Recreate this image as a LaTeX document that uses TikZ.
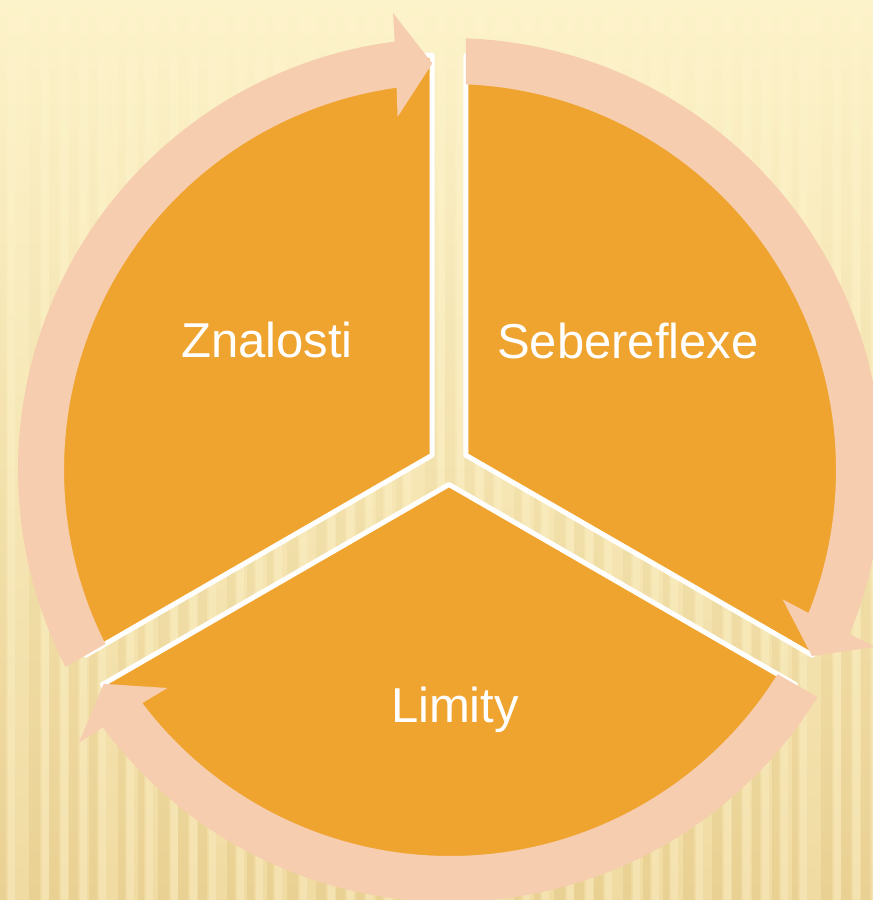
\documentclass[tikz,border=0pt]{standalone}
\usepackage{fontspec}
\setmainfont{Liberation Sans}
\usetikzlibrary{calc}
\definecolor{bgtop}{HTML}{FDF3CA}
\definecolor{bgbot}{HTML}{F0DBA2}
\definecolor{stripedark}{HTML}{E2C681}
\definecolor{stripelight}{HTML}{F8E9BA}
\definecolor{segorange}{HTML}{F0A430}
\definecolor{ringpeach}{HTML}{F6CDAE}
\tikzset{
  segment/.style={fill=segorange, draw=white, line width=5pt, line join=round},
  ringarrow/.style={fill=ringpeach},
  seglabel/.style={text=white, font=\fontsize{49}{58}\selectfont, anchor=base, inner sep=0pt}
}
% #1 tail outer angle, #2 tail inner angle, #3 tip angle
\newcommand\cyclearrow[3]{%
  \fill[ringarrow] ($(O)+(#1:432pt)$)
    arc[start angle=#1, end angle={#3+4.86}, radius=432pt]
    -- ($(O)+(#3:407pt)+({#3+90}:37pt)+(#3:52pt)$)
    -- ($(O)+(#3:407pt)$)
    -- ($(O)+(#3:407pt)+({#3+90}:37pt)+({#3+180}:52pt)$)
    -- ($(O)+({#3+5.45}:386pt)$)
    arc[start angle={#3+5.45}, end angle=#2, radius=386pt]
    -- cycle;}
\begin{document}
\begin{tikzpicture}[x=1pt,y=1pt]
  \useasboundingbox (0,0) rectangle (873,900);
  % background
  \shade[top color=bgtop, bottom color=bgbot] (0,0) rectangle (873,900);
  \foreach \i in {0,...,39} {
    \pgfmathsetmacro\sx{\i*22+mod(\i*7,9)}
    \pgfmathsetmacro\sw{6+mod(\i*5,6)}
    \shade[top color=bgtop, bottom color=stripedark, opacity=0.45] (\sx,0) rectangle ++(\sw,900);
    \shade[top color=bgtop, bottom color=stripelight, opacity=0.6] ({\sx+\sw+2},0) rectangle ++(7,900);
  }
  \coordinate (C) at (449,435);
  \coordinate (O) at (450,430);
  % segments
  \path[segment] ($(C)+(150:19.5pt)$) -- ++(90:400pt)
      arc[start angle=90, end angle=210, radius=400pt] -- cycle;
  \path[segment] ($(C)+(30:19.5pt)$) -- ++(-30:400pt)
      arc[start angle=-30, end angle=90, radius=400pt] -- cycle;
  \path[segment] ($(C)+(270:19.5pt)$) -- ++(210:400pt)
      arc[start angle=210, end angle=330, radius=400pt] -- cycle;
  % cycle arrows
  \cyclearrow{207.1}{206.8}{92.5}
  \cyclearrow{87.9}{87.65}{-27.2}
  \cyclearrow{-31.72}{-31.93}{-148.3}
  % labels
  \node[seglabel] (znalosti) at (267,542) {Znalosti};
  \node[seglabel] (sebe) at (628,541) {Sebereflexe};
  \node[seglabel] (limity) at (455,177) {Limity};
\end{tikzpicture}
\end{document}
